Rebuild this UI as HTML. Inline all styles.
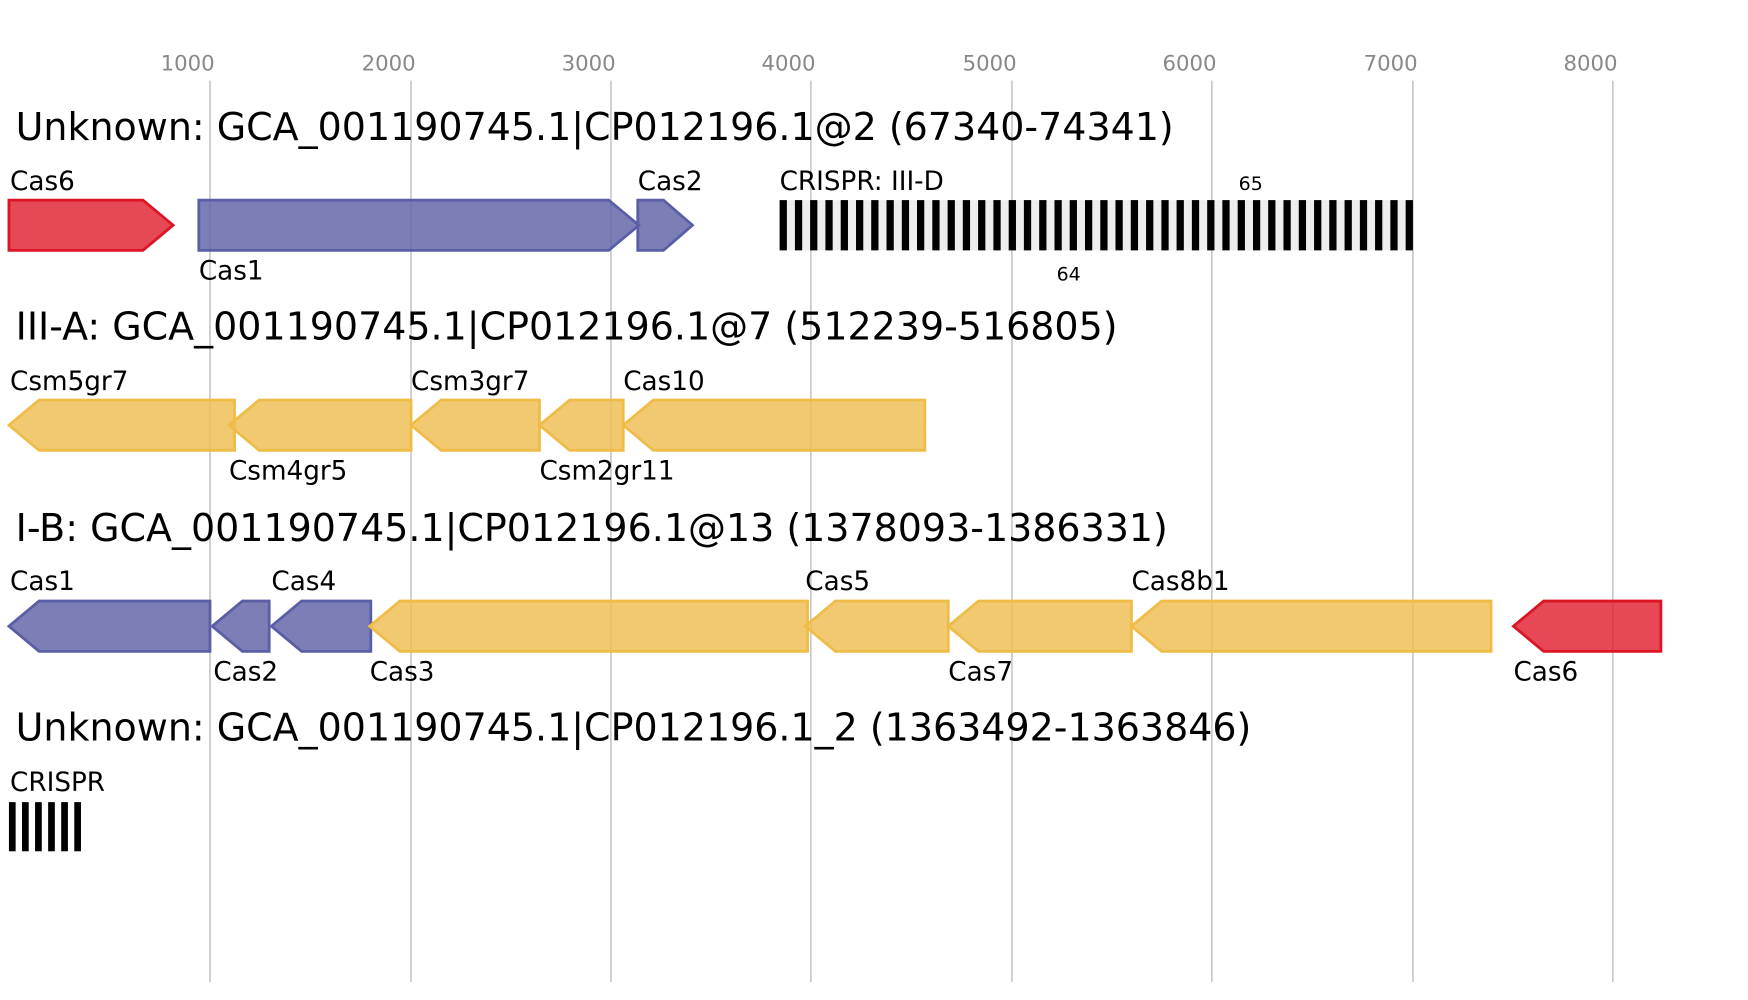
<!DOCTYPE html>
<html><head><meta charset="utf-8"><style>
html,body{margin:0;padding:0;background:#fff;}
svg{display:block;}
text{font-family:"DejaVu Sans","Liberation Sans",sans-serif;}
</style></head><body>
<svg width="1748" height="1000" viewBox="0 0 1565 895" xmlns="http://www.w3.org/2000/svg">
<g stroke="#bbb" stroke-width="1.2">
<line x1="188" y1="72" x2="188" y2="879"/><line x1="368" y1="72" x2="368" y2="879"/>
<line x1="547" y1="72" x2="547" y2="879"/><line x1="726" y1="72" x2="726" y2="879"/>
<line x1="906" y1="72" x2="906" y2="879"/><line x1="1085" y1="72" x2="1085" y2="879"/>
<line x1="1265" y1="72" x2="1265" y2="879"/><line x1="1444" y1="72" x2="1444" y2="879"/>
</g>
<g fill="#888" font-size="19" text-anchor="middle">
<text x="168" y="63">1000</text><text x="348" y="63">2000</text><text x="527" y="63">3000</text>
<text x="706" y="63">4000</text><text x="886" y="63">5000</text><text x="1065" y="63">6000</text>
<text x="1245" y="63">7000</text><text x="1424" y="63">8000</text>
</g>
<g font-size="34" fill="#000">
<text x="14" y="125">Unknown: GCA_001190745.1|CP012196.1@2 (67340-74341)</text>
<text x="14" y="304">III-A: GCA_001190745.1|CP012196.1@7 (512239-516805)</text>
<text x="14" y="484">I-B: GCA_001190745.1|CP012196.1@13 (1378093-1386331)</text>
<text x="14" y="663">Unknown: GCA_001190745.1|CP012196.1_2 (1363492-1363846)</text>
</g>
<g stroke-width="2.5" fill-opacity="0.82">
<polygon points="8,179 128,179 155,201.5 128,224 8,224" fill="#e0202f" stroke="#dc1524"/>
<polygon points="178,179 545,179 572,201.5 545,224 178,224" fill="#5f62a6" stroke="#5a5ea6"/>
<polygon points="571,179 594,179 620,201.5 594,224 571,224" fill="#5f62a6" stroke="#5a5ea6"/>
<g fill="#eebd50" stroke="#f0bc48">
<polygon points="8,380.5 35,358 210,358 210,403 35,403"/>
<polygon points="205,380.5 232,358 368,358 368,403 232,403"/>
<polygon points="368,380.5 395,358 483,358 483,403 395,403"/>
<polygon points="483,380.5 510,358 558,358 558,403 510,403"/>
<polygon points="558,380.5 585,358 828,358 828,403 585,403"/>
</g>
<polygon points="8,560.5 35,538 188,538 188,583 35,583" fill="#5f62a6" stroke="#5a5ea6"/>
<polygon points="190,560.5 217,538 241,538 241,583 217,583" fill="#5f62a6" stroke="#5a5ea6"/>
<polygon points="243,560.5 270,538 332,538 332,583 270,583" fill="#5f62a6" stroke="#5a5ea6"/>
<g fill="#eebd50" stroke="#f0bc48">
<polygon points="331,560.5 358,538 723,538 723,583 358,583"/>
<polygon points="721,560.5 748,538 849,538 849,583 748,583"/>
<polygon points="849,560.5 876,538 1013,538 1013,583 876,583"/>
<polygon points="1013,560.5 1040,538 1335,538 1335,583 1040,583"/>
</g>
<polygon points="1355,560.5 1382,538 1487,538 1487,583 1382,583" fill="#e0202f" stroke="#dc1524"/>
</g>
<rect x="698" y="179" width="567" height="45" fill="#eee"/>
<g fill="#000">
<rect x="698.0" y="179" width="6.5" height="45"/><rect x="711.7" y="179" width="6.5" height="45"/><rect x="725.3" y="179" width="6.5" height="45"/><rect x="739.0" y="179" width="6.5" height="45"/><rect x="752.7" y="179" width="6.5" height="45"/><rect x="766.4" y="179" width="6.5" height="45"/><rect x="780.0" y="179" width="6.5" height="45"/><rect x="793.7" y="179" width="6.5" height="45"/><rect x="807.4" y="179" width="6.5" height="45"/><rect x="821.0" y="179" width="6.5" height="45"/><rect x="834.7" y="179" width="6.5" height="45"/><rect x="848.4" y="179" width="6.5" height="45"/><rect x="862.0" y="179" width="6.5" height="45"/><rect x="875.7" y="179" width="6.5" height="45"/><rect x="889.4" y="179" width="6.5" height="45"/><rect x="903.1" y="179" width="6.5" height="45"/><rect x="916.7" y="179" width="6.5" height="45"/><rect x="930.4" y="179" width="6.5" height="45"/><rect x="944.1" y="179" width="6.5" height="45"/><rect x="957.7" y="179" width="6.5" height="45"/><rect x="971.4" y="179" width="6.5" height="45"/><rect x="985.1" y="179" width="6.5" height="45"/><rect x="998.7" y="179" width="6.5" height="45"/><rect x="1012.4" y="179" width="6.5" height="45"/><rect x="1026.1" y="179" width="6.5" height="45"/><rect x="1039.8" y="179" width="6.5" height="45"/><rect x="1053.4" y="179" width="6.5" height="45"/><rect x="1067.1" y="179" width="6.5" height="45"/><rect x="1080.8" y="179" width="6.5" height="45"/><rect x="1094.4" y="179" width="6.5" height="45"/><rect x="1108.1" y="179" width="6.5" height="45"/><rect x="1121.8" y="179" width="6.5" height="45"/><rect x="1135.4" y="179" width="6.5" height="45"/><rect x="1149.1" y="179" width="6.5" height="45"/><rect x="1162.8" y="179" width="6.5" height="45"/><rect x="1176.5" y="179" width="6.5" height="45"/><rect x="1190.1" y="179" width="6.5" height="45"/><rect x="1203.8" y="179" width="6.5" height="45"/><rect x="1217.5" y="179" width="6.5" height="45"/><rect x="1231.1" y="179" width="6.5" height="45"/><rect x="1244.8" y="179" width="6.5" height="45"/><rect x="1258.5" y="179" width="6.5" height="45"/>
<rect x="8" y="718" width="6" height="44"/><rect x="19.7" y="718" width="6" height="44"/><rect x="31.4" y="718" width="6" height="44"/><rect x="43.1" y="718" width="6" height="44"/><rect x="54.8" y="718" width="6" height="44"/><rect x="66.5" y="718" width="6" height="44"/>
</g>
<g font-size="23.5" fill="#000">
<text x="9" y="170">Cas6</text><text x="178" y="250">Cas1</text><text x="571" y="170">Cas2</text>
<text x="698" y="170">CRISPR: III-D</text>
<text x="9" y="349">Csm5gr7</text><text x="205" y="429">Csm4gr5</text><text x="368" y="349">Csm3gr7</text>
<text x="483" y="429">Csm2gr11</text><text x="558" y="349">Cas10</text>
<text x="9" y="528">Cas1</text><text x="191" y="609">Cas2</text><text x="243" y="528">Cas4</text>
<text x="331" y="609">Cas3</text><text x="721" y="528">Cas5</text><text x="849" y="609">Cas7</text>
<text x="1013" y="528">Cas8b1</text><text x="1355" y="609">Cas6</text>
<text x="9" y="708">CRISPR</text>
</g>
<g font-size="17" fill="#000"><text x="1109" y="170">65</text><text x="946" y="251">64</text></g>
</svg>
</body></html>
